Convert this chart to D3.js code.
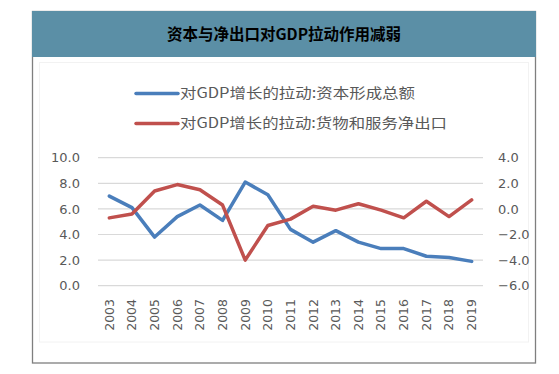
<!DOCTYPE html>
<html>
<head>
<meta charset="utf-8">
<script src="https://cdn.jsdelivr.net/npm/d3@7"></script>
<style>
  body { margin: 0; background: #fff; }
  svg { display: block; }
</style>
</head>
<body>
<svg width="559" height="374"></svg>
<script>
// 数据
const years = ["2003","2004","2005","2006","2007","2008","2009","2010","2011",
  "2012","2013","2014","2015","2016","2017","2018","2019"];
const capital = [7.0, 6.1, 3.8, 5.4, 6.3, 5.1, 8.1, 7.1, 4.4, 3.4, 4.3, 3.4, 2.9, 2.9, 2.3, 2.2, 1.9];
const netExport = [-0.7, -0.4, 1.4, 1.9, 1.5, 0.3, -4.0, -1.3, -0.8, 0.2, -0.1, 0.4, -0.1, -0.7, 0.6, -0.6, 0.7];
const leftTicks = [0, 2, 4, 6, 8, 10];
const rightTicks = [-6, -4, -2, 0, 2, 4];
const seriesNames = ["对GDP增长的拉动:资本形成总额", "对GDP增长的拉动:货物和服务净出口"];
const title = "资本与净出口对GDP拉动作用减弱";

const svg = d3.select("svg");
const blue = "#4a7ebb", red = "#c0504d";
const numFont = "'DejaVu Sans', sans-serif";
const cjkFont = "'Noto Sans CJK SC', sans-serif";

// 外框 + 标题栏
svg.append("rect")
  .attr("x", 32.5).attr("y", 11.5).attr("width", 503).attr("height", 351.5)
  .attr("fill", "#fff").attr("stroke", "#7f7f7f").attr("stroke-width", 1.3);
svg.append("rect")
  .attr("x", 32).attr("y", 11).attr("width", 504).attr("height", 46)
  .attr("fill", "#5b8fa6");
svg.append("text")
  .attr("x", 284).attr("y", 35).attr("dy", "0.35em")
  .attr("text-anchor", "middle")
  .attr("font-family", cjkFont).attr("font-weight", "bold").attr("font-size", 15.5)
  .attr("fill", "#000")
  .text(title);

// 图表区淡边框
svg.append("rect")
  .attr("x", 39.5).attr("y", 62.5).attr("width", 489).attr("height", 279.5)
  .attr("fill", "none").attr("stroke", "#f2f2f2");

// 比例尺
const x = d3.scaleBand().domain(years).range([98, 483]);
const cx = d => x(d) + x.bandwidth() / 2;
const yL = d3.scaleLinear().domain([0, 10]).range([285.7, 157.7]);
const yR = d3.scaleLinear().domain([-6, 4]).range([285.7, 157.7]);

// 网格线
svg.append("g").selectAll("line").data(leftTicks).join("line")
  .attr("x1", 98).attr("x2", 483)
  .attr("y1", d => yL(d)).attr("y2", d => yL(d))
  .attr("stroke", "#d9d9d9").attr("stroke-width", 1.2);

// 坐标轴
const fmt = d3.format(".1f");
const styleAxis = g => {
  g.select(".domain").remove();
  g.selectAll("text").attr("fill", "#595959")
    .attr("font-family", numFont).attr("font-size", 13);
};
svg.append("g")
  .attr("transform", "translate(80,0)")
  .call(d3.axisLeft(yL).tickValues(leftTicks).tickFormat(fmt).tickSize(0).tickPadding(0))
  .call(styleAxis);
svg.append("g")
  .attr("transform", "translate(498,0)")
  .call(d3.axisRight(yR).tickValues(rightTicks).tickFormat(fmt).tickSize(0).tickPadding(0))
  .call(styleAxis);

svg.append("g")
  .attr("transform", "translate(0,299)")
  .call(d3.axisBottom(x).tickSize(0).tickPadding(0))
  .call(g => g.select(".domain").remove())
  .call(g => g.selectAll("text")
    .attr("fill", "#595959").attr("font-family", numFont).attr("font-size", 12.5)
    .attr("transform", "rotate(-90)")
    .attr("text-anchor", "end").attr("x", 0).attr("y", 0).attr("dy", "0.35em"));

// 折线
const lineL = d3.line().x((d, i) => cx(years[i])).y(d => yL(d));
const lineR = d3.line().x((d, i) => cx(years[i])).y(d => yR(d));
svg.append("path").datum(capital)
  .attr("d", lineL).attr("fill", "none").attr("stroke", blue)
  .attr("stroke-width", 3.5).attr("stroke-linejoin", "round").attr("stroke-linecap", "round");
svg.append("path").datum(netExport)
  .attr("d", lineR).attr("fill", "none").attr("stroke", red)
  .attr("stroke-width", 3.5).attr("stroke-linejoin", "round").attr("stroke-linecap", "round");

// 图例
const legend = svg.append("g").selectAll("g").data(seriesNames).join("g")
  .attr("transform", (d, i) => `translate(0,${93.5 + i * 30})`);
legend.append("line")
  .attr("x1", 136).attr("x2", 178).attr("y1", 0).attr("y2", 0)
  .attr("stroke", (d, i) => i ? red : blue).attr("stroke-width", 3.5)
  .attr("stroke-linecap", "round");
legend.append("text")
  .attr("x", 180).attr("y", 0).attr("dy", "0.35em")
  .attr("font-family", cjkFont).attr("font-size", 14).attr("fill", "#595959")
  .attr("textLength", (d, i) => i ? 267 : 235).attr("lengthAdjust", "spacingAndGlyphs")
  .text(d => d);
</script>
</body>
</html>
